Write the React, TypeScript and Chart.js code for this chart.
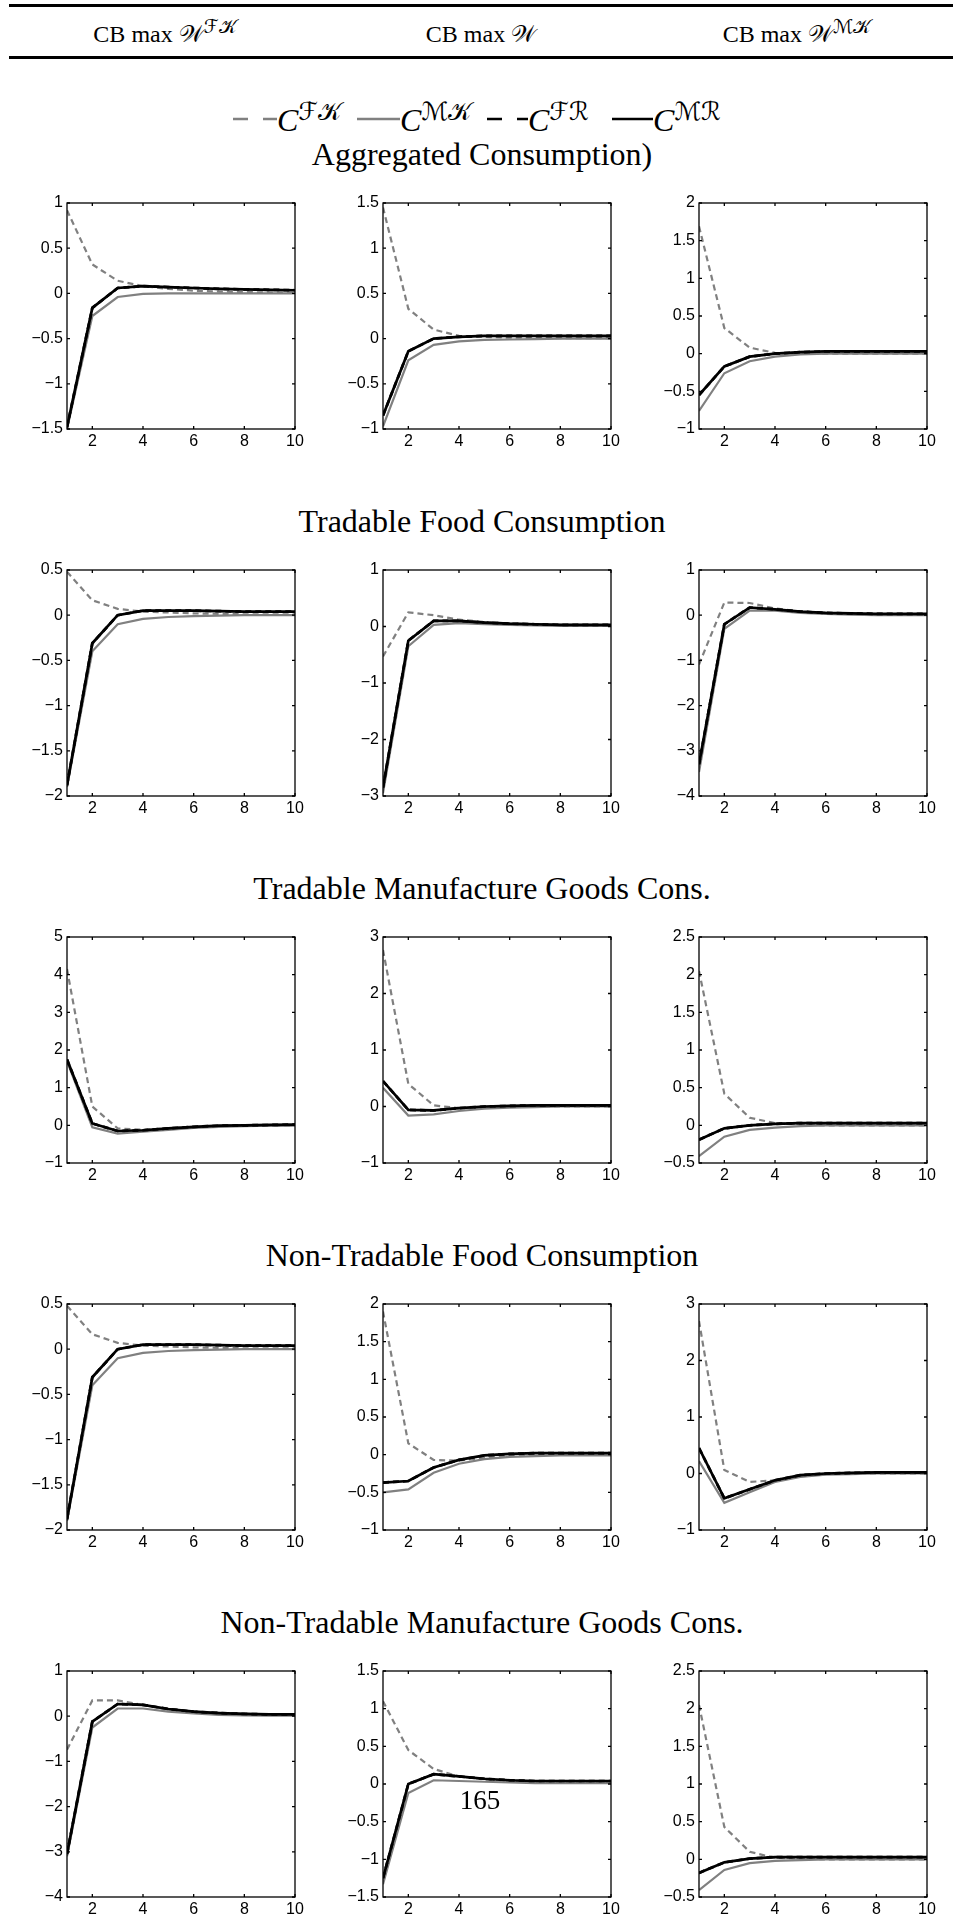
import React, { useEffect, useRef } from "react";
import { Chart, registerables } from "chart.js";
Chart.register(...registerables);

// ---------- data ----------
const PERIODS = [1, 2, 3, 4, 5, 6, 7, 8, 9, 10];
const X_TICKS = [2, 4, 6, 8, 10];
const COLUMN_TITLES = [
  { base: "CB max ", sup: "ℱ𝒦" },
  { base: "CB max ", sup: "" },
  { base: "CB max ", sup: "ℳ𝒦" },
];
const ROW_TITLES = [
  "Aggregated Consumption)",
  "Tradable Food Consumption",
  "Tradable Manufacture Goods Cons.",
  "Non-Tradable Food Consumption",
  "Non-Tradable Manufacture Goods Cons.",
];
const SERIES_SUPS = ["ℱ𝒦", "ℳ𝒦", "ℱℛ", "ℳℛ"];
const PAGE_NUMBER = "165";

// y ranges [min, max, step] per panel (row-major)
const Y_RANGES = [
  [-1.5, 1, 0.5], [-1, 1.5, 0.5], [-1, 2, 0.5],
  [-2, 0.5, 0.5], [-3, 1, 1], [-4, 1, 1],
  [-1, 5, 1], [-1, 3, 1], [-0.5, 2.5, 0.5],
  [-2, 0.5, 0.5], [-1, 2, 0.5], [-1, 3, 1],
  [-4, 1, 1], [-1.5, 1.5, 0.5], [-0.5, 2.5, 0.5],
];

// Row 1: Aggregated consumption
const agg1_FK = [0.92, 0.32, 0.14, 0.08, 0.05, 0.03, 0.02, 0.015, 0.01, 0.01];
const agg1_MK = [-1.5, -0.25, -0.04, -0.005, 0, 0, 0, 0, 0, 0];
const agg1_FR = [-1.48, -0.16, 0.06, 0.08, 0.07, 0.06, 0.05, 0.045, 0.04, 0.035];
const agg1_MR = [-1.48, -0.16, 0.06, 0.08, 0.07, 0.06, 0.05, 0.045, 0.04, 0.035];
const agg2_FK = [1.45, 0.33, 0.1, 0.03, 0.02, 0.01, 0.01, 0.005, 0.005, 0.005];
const agg2_MK = [-0.97, -0.24, -0.07, -0.03, -0.015, -0.01, -0.005, 0, 0, 0];
const agg2_FR = [-0.85, -0.14, 0.0, 0.02, 0.03, 0.03, 0.03, 0.03, 0.03, 0.03];
const agg2_MR = [-0.85, -0.14, 0.0, 0.02, 0.03, 0.03, 0.03, 0.03, 0.03, 0.03];
const agg3_FK = [1.69, 0.34, 0.08, 0.01, 0, 0, 0, 0, 0, 0];
const agg3_MK = [-0.76, -0.26, -0.1, -0.04, -0.01, 0, 0, 0, 0, 0];
const agg3_FR = [-0.55, -0.17, -0.04, 0.0, 0.02, 0.03, 0.03, 0.03, 0.03, 0.03];
const agg3_MR = [-0.55, -0.17, -0.04, 0.0, 0.02, 0.03, 0.03, 0.03, 0.03, 0.03];

// Row 2: Tradable food consumption
const tf1_FK = [0.48, 0.165, 0.07, 0.04, 0.03, 0.02, 0.015, 0.01, 0.01, 0.01];
const tf1_MK = [-1.9, -0.4, -0.1, -0.04, -0.02, -0.01, -0.005, 0, 0, 0];
const tf1_FR = [-1.88, -0.31, 0.0, 0.05, 0.05, 0.05, 0.045, 0.04, 0.04, 0.04];
const tf1_MR = [-1.88, -0.31, 0.0, 0.05, 0.05, 0.05, 0.045, 0.04, 0.04, 0.04];
const tf2_FK = [-0.53, 0.25, 0.2, 0.12, 0.08, 0.05, 0.04, 0.03, 0.03, 0.02];
const tf2_MK = [-2.95, -0.35, 0.03, 0.06, 0.04, 0.03, 0.02, 0.01, 0.01, 0.01];
const tf2_FR = [-2.85, -0.25, 0.1, 0.1, 0.07, 0.05, 0.04, 0.03, 0.03, 0.03];
const tf2_MR = [-2.85, -0.25, 0.1, 0.1, 0.07, 0.05, 0.04, 0.03, 0.03, 0.03];
const tf3_FK = [-1.09, 0.28, 0.27, 0.15, 0.08, 0.05, 0.04, 0.03, 0.02, 0.02];
const tf3_MK = [-3.47, -0.3, 0.1, 0.1, 0.05, 0.03, 0.01, 0, 0, 0];
const tf3_FR = [-3.3, -0.2, 0.17, 0.13, 0.08, 0.05, 0.04, 0.03, 0.03, 0.03];
const tf3_MR = [-3.3, -0.2, 0.17, 0.13, 0.08, 0.05, 0.04, 0.03, 0.03, 0.03];

// Row 3: Tradable manufacture goods consumption
const tm1_FK = [4.15, 0.5, -0.08, -0.12, -0.08, -0.05, -0.02, -0.01, 0, 0];
const tm1_MK = [1.7, -0.05, -0.22, -0.17, -0.12, -0.07, -0.04, -0.02, -0.01, -0.01];
const tm1_FR = [1.75, 0.05, -0.15, -0.13, -0.08, -0.04, -0.01, 0.0, 0.01, 0.02];
const tm1_MR = [1.75, 0.05, -0.15, -0.13, -0.08, -0.04, -0.01, 0.0, 0.01, 0.02];
const tm2_FK = [2.77, 0.4, 0.02, -0.03, -0.02, 0, 0, 0, 0, 0];
const tm2_MK = [0.33, -0.16, -0.14, -0.08, -0.04, -0.02, -0.01, 0, 0, 0];
const tm2_FR = [0.45, -0.06, -0.07, -0.03, 0.0, 0.01, 0.02, 0.02, 0.02, 0.02];
const tm2_MR = [0.45, -0.06, -0.07, -0.03, 0.0, 0.01, 0.02, 0.02, 0.02, 0.02];
const tm3_FK = [2.05, 0.42, 0.1, 0.03, 0.01, 0, 0, 0, 0, 0];
const tm3_MK = [-0.41, -0.15, -0.06, -0.03, -0.01, 0, 0, 0, 0, 0];
const tm3_FR = [-0.19, -0.04, 0.0, 0.02, 0.03, 0.03, 0.03, 0.03, 0.03, 0.03];
const tm3_MR = [-0.19, -0.04, 0.0, 0.02, 0.03, 0.03, 0.03, 0.03, 0.03, 0.03];

// Row 4: Non-tradable food consumption
const nf1_FK = [0.48, 0.165, 0.07, 0.04, 0.03, 0.02, 0.015, 0.01, 0.01, 0.01];
const nf1_MK = [-1.9, -0.4, -0.1, -0.04, -0.02, -0.01, -0.005, 0, 0, 0];
const nf1_FR = [-1.88, -0.31, 0.0, 0.05, 0.05, 0.05, 0.045, 0.04, 0.04, 0.04];
const nf1_MR = [-1.88, -0.31, 0.0, 0.05, 0.05, 0.05, 0.045, 0.04, 0.04, 0.04];
const nf2_FK = [1.9, 0.15, -0.07, -0.08, -0.04, -0.01, 0, 0.01, 0.01, 0.01];
const nf2_MK = [-0.5, -0.46, -0.24, -0.12, -0.06, -0.03, -0.02, -0.01, -0.01, -0.01];
const nf2_FR = [-0.37, -0.35, -0.17, -0.07, -0.01, 0.01, 0.02, 0.02, 0.02, 0.02];
const nf2_MR = [-0.37, -0.35, -0.17, -0.07, -0.01, 0.01, 0.02, 0.02, 0.02, 0.02];
const nf3_FK = [2.7, 0.06, -0.15, -0.12, -0.05, -0.01, 0, 0, 0, 0];
const nf3_MK = [0.22, -0.52, -0.33, -0.15, -0.06, -0.02, -0.01, 0, 0, 0];
const nf3_FR = [0.45, -0.44, -0.28, -0.12, -0.03, 0.0, 0.01, 0.02, 0.02, 0.02];
const nf3_MR = [0.45, -0.44, -0.28, -0.12, -0.03, 0.0, 0.01, 0.02, 0.02, 0.02];

// Row 5: Non-tradable manufacture goods consumption
const nm1_FK = [-0.74, 0.35, 0.35, 0.25, 0.15, 0.1, 0.07, 0.05, 0.04, 0.03];
const nm1_MK = [-3.1, -0.25, 0.17, 0.17, 0.1, 0.06, 0.03, 0.02, 0.01, 0.01];
const nm1_FR = [-3.05, -0.12, 0.27, 0.25, 0.16, 0.1, 0.07, 0.05, 0.04, 0.04];
const nm1_MR = [-3.05, -0.12, 0.27, 0.25, 0.16, 0.1, 0.07, 0.05, 0.04, 0.04];
const nm2_FK = [1.1, 0.45, 0.2, 0.1, 0.06, 0.04, 0.03, 0.03, 0.02, 0.02];
const nm2_MK = [-1.33, -0.12, 0.05, 0.04, 0.03, 0.02, 0.01, 0.01, 0.01, 0.01];
const nm2_FR = [-1.25, 0.0, 0.13, 0.1, 0.07, 0.05, 0.04, 0.04, 0.04, 0.04];
const nm2_MR = [-1.25, 0.0, 0.13, 0.1, 0.07, 0.05, 0.04, 0.04, 0.04, 0.04];
const nm3_FK = [2.05, 0.43, 0.1, 0.02, 0.01, 0, 0, 0, 0, 0];
const nm3_MK = [-0.41, -0.14, -0.05, -0.02, -0.01, 0, 0, 0, 0, 0];
const nm3_FR = [-0.18, -0.04, 0.01, 0.03, 0.03, 0.03, 0.03, 0.03, 0.03, 0.03];
const nm3_MR = [-0.18, -0.04, 0.01, 0.03, 0.03, 0.03, 0.03, 0.03, 0.03, 0.03];

const PANEL_SERIES = [
  [agg1_FK, agg1_MK, agg1_FR, agg1_MR], [agg2_FK, agg2_MK, agg2_FR, agg2_MR], [agg3_FK, agg3_MK, agg3_FR, agg3_MR],
  [tf1_FK, tf1_MK, tf1_FR, tf1_MR], [tf2_FK, tf2_MK, tf2_FR, tf2_MR], [tf3_FK, tf3_MK, tf3_FR, tf3_MR],
  [tm1_FK, tm1_MK, tm1_FR, tm1_MR], [tm2_FK, tm2_MK, tm2_FR, tm2_MR], [tm3_FK, tm3_MK, tm3_FR, tm3_MR],
  [nf1_FK, nf1_MK, nf1_FR, nf1_MR], [nf2_FK, nf2_MK, nf2_FR, nf2_MR], [nf3_FK, nf3_MK, nf3_FR, nf3_MR],
  [nm1_FK, nm1_MK, nm1_FR, nm1_MR], [nm2_FK, nm2_MK, nm2_FR, nm2_MR], [nm3_FK, nm3_MK, nm3_FR, nm3_MR],
];

// ---------- layout / style ----------
const COL_LEFTS = [67, 383, 699];
const ROW_TOPS = [203, 570, 937, 1304, 1671];
const PLOT_W = 228;
const PLOT_H = 226;
const PAD_L = 60, PAD_R = 22, PAD_T = 16, PAD_B = 32;
const CW = PLOT_W + PAD_L + PAD_R;
const CH = PLOT_H + PAD_T + PAD_B;
const GRAY = "#808080";
const SERIES_STYLE = [
  { color: GRAY, width: 2.2, dash: [6, 4], order: 2 },
  { color: GRAY, width: 2.2, dash: [], order: 3 },
  { color: "#000", width: 2.7, dash: [6, 4], order: 1 },
  { color: "#000", width: 2.7, dash: [], order: 0 },
];
const SERIF = "'Liberation Serif', 'DejaVu Serif', serif";
const MATHFONT = "'DejaVu Serif', 'DejaVu Sans', 'Noto Sans', serif";
const TICK_FONT = { family: "'Liberation Sans', Arial, sans-serif", size: 16 };

const fmt = (v: number) => {
  const r = Math.round(v * 100) / 100;
  const s = String(Math.abs(r));
  return r < 0 ? "\u2212" + s : s;
};

const framePlugin = {
  id: "matlabFrame",
  afterDatasetsDraw(chart: any) {
    const { ctx, chartArea: a, scales } = chart;
    ctx.save();
    ctx.strokeStyle = "#000";
    ctx.lineWidth = 1.3;
    ctx.setLineDash([]);
    ctx.strokeRect(a.left, a.top, a.right - a.left, a.bottom - a.top);
    const L = 3;
    ctx.beginPath();
    scales.y.ticks.forEach((t: any) => {
      const y = scales.y.getPixelForValue(t.value);
      ctx.moveTo(a.left, y); ctx.lineTo(a.left + L, y);
      ctx.moveTo(a.right, y); ctx.lineTo(a.right - L, y);
    });
    scales.x.ticks.forEach((t: any) => {
      const x = scales.x.getPixelForValue(t.value);
      ctx.moveTo(x, a.bottom); ctx.lineTo(x, a.bottom - L);
      ctx.moveTo(x, a.top); ctx.lineTo(x, a.top + L);
    });
    ctx.stroke();
    ctx.restore();
  },
};

function Panel({ idx, left, top }: { idx: number; left: number; top: number }) {
  const ref = useRef<HTMLCanvasElement>(null);
  useEffect(() => {
    const [ymin, ymax, step] = Y_RANGES[idx];
    const series = PANEL_SERIES[idx];
    const chart = new Chart(ref.current as HTMLCanvasElement, {
      type: "line",
      data: {
        datasets: series.map((vals, s) => ({
          data: PERIODS.map((p, i) => ({ x: p, y: vals[i] })),
          borderColor: SERIES_STYLE[s].color,
          borderWidth: SERIES_STYLE[s].width,
          borderDash: SERIES_STYLE[s].dash,
          order: SERIES_STYLE[s].order,
          pointRadius: 0,
          fill: false,
          tension: 0,
          borderJoinStyle: "miter" as const,
        })),
      },
      options: {
        responsive: false,
        animation: false,
        events: [],
        layout: { padding: { top: PAD_T, right: PAD_R, left: 0, bottom: 0 } },
        plugins: { legend: { display: false }, tooltip: { enabled: false }, title: { display: false } },
        scales: {
          x: {
            type: "linear",
            min: 1,
            max: 10,
            grid: { display: false, drawTicks: false },
            border: { display: false },
            afterBuildTicks: (axis: any) => {
              axis.ticks = X_TICKS.map((v) => ({ value: v }));
            },
            afterFit: (axis: any) => { axis.height = PAD_B; },
            ticks: {
              autoSkip: false,
              maxRotation: 0,
              padding: 3,
              color: "#000",
              font: TICK_FONT,
              callback: (v: any) => fmt(Number(v)),
            },
          },
          y: {
            type: "linear",
            min: ymin,
            max: ymax,
            grid: { display: false, drawTicks: false },
            border: { display: false },
            afterFit: (axis: any) => { axis.width = PAD_L; },
            ticks: {
              stepSize: step,
              autoSkip: false,
              padding: 4,
              color: "#000",
              font: TICK_FONT,
              callback: (v: any) => fmt(Number(v)),
            },
          },
        },
      },
      plugins: [framePlugin],
    } as any);
    return () => chart.destroy();
  }, [idx]);
  return (
    <canvas
      ref={ref}
      width={CW}
      height={CH}
      style={{ position: "absolute", left: left - PAD_L, top: top - PAD_T, width: CW, height: CH }}
    />
  );
}

function Sup({ text, size, raise }: { text: string; size: number; raise: number }) {
  return (
    <span style={{ fontFamily: MATHFONT, fontSize: size, position: "relative", top: -raise, fontStyle: "normal" }}>
      {text}
    </span>
  );
}

const LEGEND_ITEMS = [
  { lineLeft: 233, lineW: 44, textLeft: 277, color: GRAY, dash: true },
  { lineLeft: 357, lineW: 43, textLeft: 400, color: GRAY, dash: false },
  { lineLeft: 487, lineW: 41, textLeft: 528, color: "#000", dash: true },
  { lineLeft: 612, lineW: 41, textLeft: 653, color: "#000", dash: false },
];

export default function App() {
  return (
    <div style={{ position: "absolute", left: 0, top: 0, width: 953, height: 1920, background: "#fff", overflow: "hidden" }}>
      {/* header rules */}
      <div style={{ position: "absolute", left: 9, top: 4, width: 944, height: 3, background: "#000" }} />
      <div style={{ position: "absolute", left: 9, top: 56, width: 944, height: 2.5, background: "#000" }} />
      {COLUMN_TITLES.map((c, i) => (
        <div
          key={i}
          style={{
            position: "absolute",
            left: [165, 481, 797][i] - 150,
            width: 300,
            top: 20,
            textAlign: "center",
            fontFamily: SERIF,
            fontSize: 24,
            lineHeight: "28px",
            whiteSpace: "nowrap",
          }}
        >
          {c.base}
          <span style={{ fontFamily: MATHFONT, fontSize: 24 }}>𝒲</span>
          {c.sup ? <Sup text={c.sup} size={19} raise={9} /> : null}
        </div>
      ))}

      {/* legend */}
      {LEGEND_ITEMS.map((it, i) => (
        <React.Fragment key={i}>
          <svg style={{ position: "absolute", left: it.lineLeft, top: 116 }} width={it.lineW} height={6}>
            <line
              x1={0}
              y1={3}
              x2={it.lineW}
              y2={3}
              stroke={it.color}
              strokeWidth={2.7}
              strokeDasharray={it.dash ? "15 15" : undefined}
            />
          </svg>
          <div
            style={{
              position: "absolute",
              left: it.textLeft,
              top: 101,
              fontFamily: SERIF,
              fontStyle: "italic",
              fontSize: 32,
              lineHeight: "38px",
              whiteSpace: "nowrap",
            }}
          >
            C<Sup text={SERIES_SUPS[i]} size={25} raise={11} />
          </div>
        </React.Fragment>
      ))}

      {ROW_TITLES.map((t, r) => (
        <div
          key={r}
          style={{
            position: "absolute",
            left: 0,
            width: 964,
            top: ROW_TOPS[r] - 68,
            textAlign: "center",
            fontFamily: SERIF,
            fontSize: 32,
            lineHeight: "38px",
            whiteSpace: "nowrap",
          }}
        >
          {t}
        </div>
      ))}

      {ROW_TOPS.map((top, r) =>
        COL_LEFTS.map((left, c) => <Panel key={`${r}-${c}`} idx={r * 3 + c} left={left} top={top} />)
      )}

      <div
        style={{
          position: "absolute",
          left: 430,
          width: 100,
          top: 1784,
          textAlign: "center",
          fontFamily: SERIF,
          fontSize: 27,
          lineHeight: "32px",
        }}
      >
        {PAGE_NUMBER}
      </div>
    </div>
  );
}
